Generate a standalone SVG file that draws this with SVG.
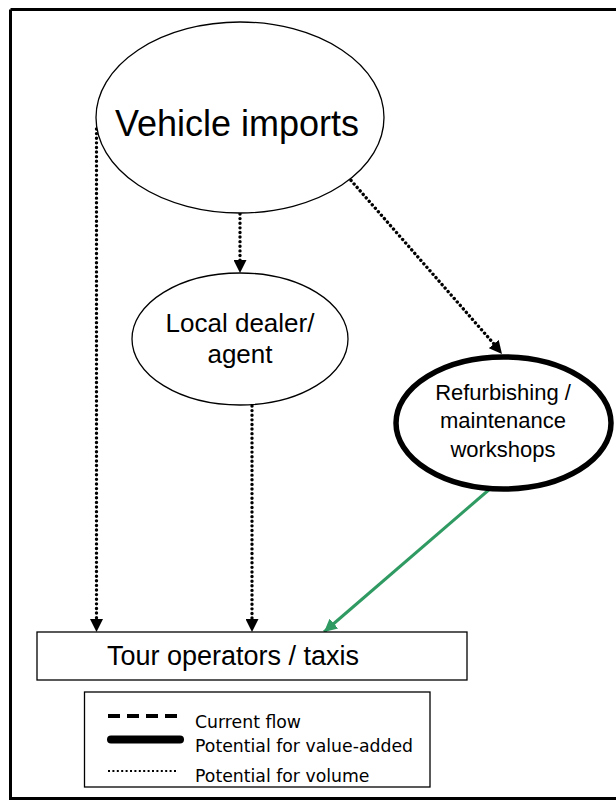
<svg xmlns="http://www.w3.org/2000/svg" width="616" height="800" viewBox="0 0 616 800">
  <style>
    .node { fill: #ffffff; stroke: #000000; stroke-width: 1.3; }
    .thick { fill: #ffffff; stroke: #000000; stroke-width: 5.5; }
    .lbl { font-family: "Liberation Sans", Arial, sans-serif; fill: #000000; text-anchor: middle; }
    .leg { font-family: "DejaVu Sans", Tahoma, sans-serif; font-size: 17.3px; fill: #000000; }
    .dot { fill: none; stroke: #000000; stroke-width: 3.4; stroke-linecap: round; stroke-dasharray: 0.01 4.6; }
    .green { fill: none; stroke: #2f9a62; stroke-width: 3; }
  </style>
  <defs>
    <marker id="ahBlack" markerUnits="userSpaceOnUse" viewBox="0 0 12 12" refX="12" refY="6" markerWidth="13" markerHeight="13" orient="auto">
      <path d="M0,0 L12,6 L0,12 Z" fill="#000000"/>
    </marker>
    <marker id="ahGreen" markerUnits="userSpaceOnUse" viewBox="0 0 12 12" refX="12" refY="6" markerWidth="13" markerHeight="13" orient="auto">
      <path d="M0,0 L12,6 L0,12 Z" fill="#2f9a62"/>
    </marker>
  </defs>

  <rect x="0" y="0" width="616" height="800" fill="#ffffff"/>

  <!-- frame: left, top and bottom edges -->
  <path d="M10.5,9.5 H616 M10.5,9.5 V798.5 H616" fill="none" stroke="#000000" stroke-width="3"/>

  <g id="connectors">
    <line class="dot" x1="96.5" y1="129" x2="96.5" y2="620"/>
    <line x1="96.5" y1="618" x2="96.5" y2="632" stroke="none" marker-end="url(#ahBlack)"/>
    <line class="dot" x1="240" y1="214" x2="240" y2="262"/>
    <line x1="240" y1="260" x2="240" y2="273" stroke="none" marker-end="url(#ahBlack)"/>
    <line class="dot" x1="348" y1="177" x2="494" y2="344"/>
    <line x1="492" y1="342" x2="502" y2="354" stroke="none" marker-end="url(#ahBlack)"/>
    <line class="dot" x1="252" y1="406" x2="252" y2="620"/>
    <line x1="252" y1="618" x2="252" y2="632" stroke="none" marker-end="url(#ahBlack)"/>
    <line class="green" x1="491" y1="488" x2="324" y2="632" marker-end="url(#ahGreen)"/>
  </g>

  <g id="vehicle-imports">
    <ellipse class="node" cx="240" cy="117.5" rx="144" ry="95.5"/>
    <text class="lbl" x="237" y="136" font-size="36">Vehicle imports</text>
  </g>

  <g id="local-dealer">
    <ellipse class="node" cx="240" cy="339" rx="108" ry="66"/>
    <text class="lbl" x="240" y="332" font-size="26">Local dealer/</text>
    <text class="lbl" x="240" y="363" font-size="26">agent</text>
  </g>

  <g id="refurbishing">
    <ellipse class="thick" cx="503.5" cy="423" rx="107.5" ry="66"/>
    <text class="lbl" x="503" y="400" font-size="22">Refurbishing /</text>
    <text class="lbl" x="503" y="428" font-size="22">maintenance</text>
    <text class="lbl" x="503" y="457" font-size="22">workshops</text>
  </g>

  <g id="tour-operators">
    <rect x="37" y="632" width="430" height="48" fill="#ffffff" stroke="#000000" stroke-width="1.3"/>
    <text class="lbl" x="233" y="665" font-size="27">Tour operators / taxis</text>
  </g>

  <g id="legend">
    <rect x="84.5" y="692" width="345.5" height="95" fill="#ffffff" stroke="#000000" stroke-width="1.3"/>
    <line x1="108" y1="716" x2="181" y2="716" stroke="#000000" stroke-width="4" stroke-dasharray="12 7"/>
    <line x1="111" y1="739.5" x2="180" y2="739.5" stroke="#000000" stroke-width="8" stroke-linecap="round"/>
    <line x1="108" y1="771" x2="177" y2="771" stroke="#000000" stroke-width="2.2" stroke-dasharray="2 2.4"/>
    <text class="leg" x="195" y="728">Current flow</text>
    <text class="leg" x="195" y="752">Potential for value-added</text>
    <text class="leg" x="195" y="782">Potential for volume</text>
  </g>
</svg>
